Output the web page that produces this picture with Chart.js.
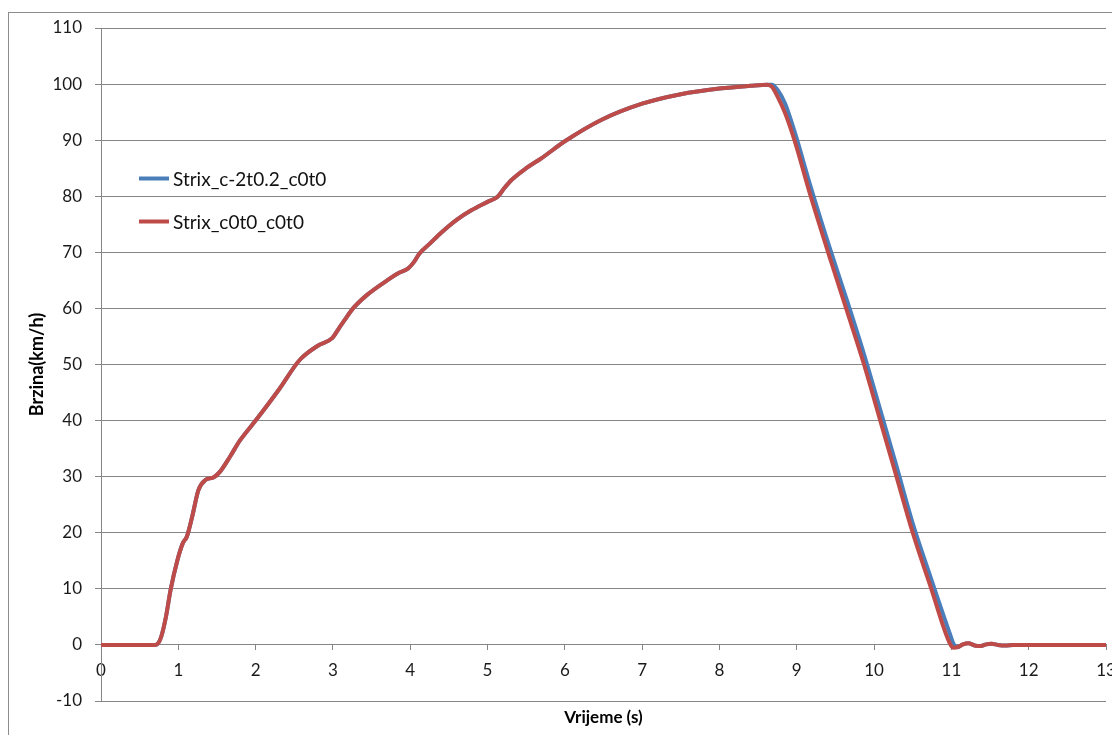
<!DOCTYPE html>
<html>
<head>
<meta charset="utf-8">
<title>Brzina</title>
<script src="https://cdn.jsdelivr.net/npm/chart.js@4.4.1/dist/chart.umd.min.js"></script>
<style>
  html, body { margin: 0; padding: 0; background: #fff; }
  #wrap { width: 1112px; height: 735px; position: relative; }
</style>
</head>
<body>
<div id="wrap"><canvas id="myChart"></canvas></div>
<script>
// time (s)
const timeS = [0, 0.70, 0.74, 0.78, 0.84, 0.90, 0.99, 1.06, 1.11, 1.18, 1.26, 1.35, 1.46, 1.54, 1.67, 1.80,
    2.0, 2.3, 2.57, 2.8, 2.99, 3.08, 3.15, 3.26, 3.45, 3.67, 3.85, 3.97, 4.05, 4.12, 4.25, 4.40, 4.6, 4.79,
    5.0, 5.13, 5.22, 5.31, 5.5, 5.7, 6.0, 6.47, 7.0, 7.5, 8.0, 8.4, 8.62, 8.68, 8.75, 8.85, 8.97, 9.18,
    9.44, 9.65, 9.87, 10.08, 10.29, 10.5, 10.74, 10.99, 11.03, 11.08, 11.15, 11.22, 11.3, 11.38, 11.45,
    11.52, 11.6, 11.7, 11.8, 13];

// speed (km/h)
const speedRed = [0, 0, 0.3, 1.5, 5, 9.8, 15.2, 18.2, 19.3, 22.9, 27.6, 29.4, 29.9, 30.9, 33.6, 36.5,
    40, 45.5, 50.8, 53.3, 54.7, 56.5, 57.9, 60, 62.5, 64.7, 66.3, 67.1, 68.3, 69.8, 71.5, 73.5, 75.8, 77.5,
    79, 79.9, 81.5, 82.9, 85, 86.8, 89.8, 93.6, 96.5, 98.2, 99.2, 99.7, 99.9, 99.5, 97.8, 94.8, 90, 80,
    68.5, 59.5, 50, 40, 30, 20, 10, 0, -0.5, -0.4, 0.1, 0.3, -0.1, -0.2, 0.1,
    0.2, 0, -0.1, 0, 0];

const speedBlue = [0, 0, 0.3, 1.5, 5, 9.8, 15.2, 18.2, 19.3, 22.9, 27.6, 29.4, 29.9, 30.9, 33.6, 36.5,
    40, 45.5, 50.8, 53.3, 54.7, 56.5, 57.9, 60, 62.5, 64.7, 66.3, 67.1, 68.3, 69.8, 71.5, 73.5, 75.8, 77.5,
    79, 79.9, 81.5, 82.9, 85, 86.8, 89.8, 93.6, 96.5, 98.2, 99.2, 99.7, 99.9, 99.9, 99.0, 96.5, 91.6, 81.7,
    70.2, 61.4, 51.8, 41.9, 31.9, 21.7, 11.7, 1.6, 0.1, -0.4, 0.1, 0.3, -0.1, -0.2, 0.1,
    0.2, 0, -0.1, 0, 0];

const seriesNames = ['Strix_c-2t0.2_c0t0', 'Strix_c0t0_c0t0'];
const seriesColors = ['#4A7EBB', '#BE4B48'];

const xTicks = { min: 0, max: 13, step: 1 };
const yTicks = { min: -10, max: 110, step: 10 };

const fontFamily = 'Lato, "Open Sans", sans-serif';
const gridColor = '#868686';

function toPoints(values) {
    return timeS.map((t, i) => ({ x: t, y: values[i] }));
}

// Excel style legend inside the plot
const innerLegend = {
    id: 'innerLegend',
    afterDatasetsDraw(chart) {
        const ctx = chart.ctx;
        ctx.save();
        chart.data.datasets.forEach((ds, i) => {
            const y = 178.5 + i * 43;
            ctx.strokeStyle = ds.borderColor;
            ctx.lineWidth = 4;
            ctx.beginPath();
            ctx.moveTo(139, y);
            ctx.lineTo(169, y);
            ctx.stroke();
            ctx.fillStyle = '#111';
            ctx.font = '19px ' + fontFamily;
            ctx.textBaseline = 'middle';
            ctx.fillText(ds.label, 173, y + 1);
        });
        ctx.restore();
    }
};

const outerBorder = {
    id: 'outerBorder',
    beforeDraw(chart) {
        const ctx = chart.ctx;
        ctx.save();
        ctx.strokeStyle = '#8c8c8c';
        ctx.lineWidth = 1;
        ctx.strokeRect(8.5, 12.5, 1300, 1000);
        ctx.restore();
    }
};

const ctx = document.getElementById('myChart').getContext('2d');
const myChart = new Chart(ctx, {
    type: 'line',
    data: {
        datasets: [
            {
                label: seriesNames[0],
                data: toPoints(speedBlue),
                borderColor: seriesColors[0],
                backgroundColor: seriesColors[0],
                borderWidth: 4,
                pointRadius: 0,
                cubicInterpolationMode: 'monotone',
                order: 2
            },
            {
                label: seriesNames[1],
                data: toPoints(speedRed),
                borderColor: seriesColors[1],
                backgroundColor: seriesColors[1],
                borderWidth: 4,
                pointRadius: 0,
                cubicInterpolationMode: 'monotone',
                order: 1
            }
        ]
    },
    options: {
        responsive: true,
        maintainAspectRatio: false,
        animation: false,
        layout: { padding: { top: 28, right: 6, left: 0, bottom: 0 } },
        plugins: {
            legend: { display: false },
            tooltip: { enabled: false }
        },
        scales: {
            x: {
                type: 'linear',
                position: { y: 0 },
                min: xTicks.min,
                max: xTicks.max,
                ticks: {
                    stepSize: xTicks.step,
                    color: '#1a1a1a',
                    padding: 10,
                    maxRotation: 0,
                    font: { family: fontFamily, size: 17 }
                },
                grid: { drawOnChartArea: false, drawTicks: true, tickLength: 5, color: gridColor },
                border: { color: gridColor },
                afterFit: (s) => { s.paddingLeft = 0; s.paddingRight = 0; }
            },
            xt: {
                type: 'linear',
                position: 'bottom',
                min: xTicks.min,
                max: xTicks.max,
                ticks: { display: false },
                grid: { display: false },
                border: { display: false },
                title: {
                    display: true,
                    text: 'Vrijeme (s)',
                    color: '#000',
                    padding: { top: 0, bottom: 7 },
                    font: { family: fontFamily, size: 17, weight: 'bold' }
                },
                afterFit: (s) => { s.height = 34; }
            },
            y: {
                type: 'linear',
                position: 'left',
                min: yTicks.min,
                max: yTicks.max,
                ticks: {
                    stepSize: yTicks.step,
                    color: '#1a1a1a',
                    padding: 13,
                    font: { family: fontFamily, size: 17 }
                },
                grid: { color: gridColor, tickLength: 6 },
                border: { color: gridColor },
                title: {
                    display: true,
                    text: 'Brzina(km/h)',
                    color: '#000',
                    padding: { top: 26, bottom: 0 },
                    font: { family: fontFamily, size: 18, weight: 'bold' }
                },
                afterFit: (s) => { s.width = 101; }
            }
        }
    },
    plugins: [outerBorder, innerLegend]
});
</script>
</body>
</html>
